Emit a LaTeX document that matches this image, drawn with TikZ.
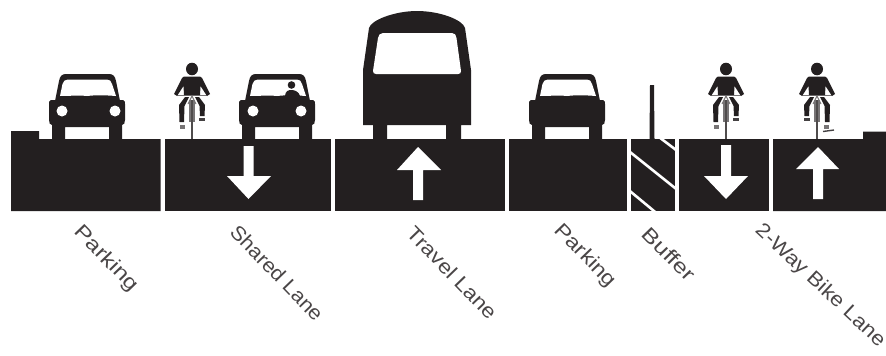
\documentclass[tikz,border=0pt]{standalone}
\usepackage{fontspec}
\setmainfont{Liberation Sans}
\definecolor{ink}{HTML}{231F20}
\definecolor{labelink}{HTML}{4A4647}
\definecolor{spoke}{HTML}{777475}
\newcommand{\carshape}[1]{%
\begin{scope}[shift={(#1,0)}]
\fill[ink] (-32,101) -- (-28,81) .. controls (-27,76) and (-25,74) .. (-21,74) -- (22,74) .. controls (26,74) and (28,76) .. (29,81) -- (33,101) -- cycle;
\fill[ink] (-36,100) -- (36,100) .. controls (38,101) and (38,102) .. (38,104) -- (38,120) .. controls (38,123) and (37,125) .. (35,125) -- (35,139) -- (22,139) -- (22,127) -- (-22,127) -- (-22,139) -- (-35,139) -- (-35,125) .. controls (-37,125) and (-38,123) .. (-38,120) -- (-38,104) .. controls (-38,102) and (-38,101) .. (-36,100) -- cycle;
\fill[white] (-27,96) -- (-24.5,84) .. controls (-23.5,81) and (-22,79.5) .. (-19,79.5) -- (20,79.5) .. controls (23,79.5) and (24,81) .. (25,84) -- (29,96) .. controls (15,95) and (10,95) .. (0,96) .. controls (-10,95) and (-15,96) .. (-27,96) -- cycle;
\end{scope}}
\newcommand{\cyclist}[2]{%
\begin{scope}[shift={(#1,0)},xscale=#2]
\fill[spoke] (-3,100) rectangle (3,122);
\draw[ink!80,line width=2.6pt] (0,100) -- (0,139);
\draw[spoke,line width=1pt] (-15,95.5) -- (15,95.5);
\draw[spoke,line width=1pt] (-4,104) -- (0,96) -- (4,104);
\fill[ink] (0,69) ellipse[x radius=6,y radius=6.3];
\fill[ink] (-8,76.5) -- (8,76.5) -- (10,78) -- (18,94) -- (15,96) -- (8.5,86) -- (8,95) -- (-8,95) -- (-8.5,86) -- (-15,96) -- (-18,94) -- (-10,78) -- cycle;
\fill[ink] (-7,97) -- (-3,97) -- (-7.5,106) -- (-8,122) -- (-12.5,122) -- (-13,105) -- cycle;
\fill[ink] (7,97) -- (3,97) -- (7.5,106) -- (8,116) -- (12.5,116) -- (13,105) -- cycle;
\fill[spoke] (-12,125) rectangle (-7,129);
\fill[ink!85] (7,118) rectangle (13,121);
\end{scope}}
\tikzset{
  road/.style={fill=ink},
  lanemark/.style={fill=white},
  lanelabel/.style={text=labelink,font=\fontsize{20}{20}\selectfont,rotate=-46,inner sep=0pt},
}
\begin{document}
\begin{tikzpicture}[x=1pt,y=-1pt]
\useasboundingbox (0,0) rectangle (886,356);
% road blocks
\fill[road] (11,211) -- (11,131) -- (39,131) -- (39,139) -- (160.5,139) -- (160.5,211) -- cycle;
\fill[road] (165,139) rectangle (331,211);
\fill[road] (335,139) rectangle (505,211);
\fill[road] (509,139) rectangle (627,211);
\fill[road] (679,139) rectangle (769,211);
\fill[road] (773,211) -- (773,139) -- (863,139) -- (863,131.5) -- (886,131.5) -- (886,211) -- cycle;
% buffer
\fill[road] (631,139) rectangle (675,211);
\begin{scope}
\clip (631,139) rectangle (675,211);
\draw[white,line width=2.6pt] (625,148) -- (680,192);
\draw[white,line width=2.6pt] (625,187) -- (660,216);
\draw[white,line width=2.6pt] (655,134) -- (680,153);
\end{scope}
\fill[ink] (649.5,139) -- (650,85) -- (654,85) -- (654.5,139) -- cycle;
% lane arrows
\fill[lanemark] (243.5,146) -- (253.5,146) -- (253.5,176) -- (271,176) -- (248.5,199) -- (227,176) -- (243.5,176) -- cycle;
\fill[lanemark] (413,200) -- (423,200) -- (423,170) -- (441,170) -- (418,147) -- (397,170) -- (413,170) -- cycle;
\fill[lanemark] (721,145) -- (731,145) -- (731,176) -- (748,176) -- (726,199) -- (704,176) -- (721,176) -- cycle;
\fill[lanemark] (813,199) -- (823,199) -- (823,169) -- (839,169) -- (818,147) -- (796,169) -- (813,169) -- cycle;
% cars
\carshape{87}
\fill[white] (62,111) circle[radius=5.5] (115,111) circle[radius=5.5];
\carshape{277}
\fill[white] (253,111) circle[radius=5.5] (301,111) circle[radius=5.5];
\fill[ink] (291.5,85) circle[radius=3.8];
\fill[ink] (285,96) .. controls (285.5,91) and (288,90) .. (291.5,90) .. controls (295,90) and (299,92) .. (300,96) -- cycle;
\carshape{567}
% bus
\fill[ink] (373,139) -- (373,125) -- (363,125) -- (363,70) -- (369,28) .. controls (371,20) and (395,11) .. (417,11) .. controls (440,11) and (463,20) .. (465,28) -- (471,70) -- (471,125) -- (461,125) -- (461,139) -- (446,139) -- (446,125) -- (387,125) -- (387,139) -- cycle;
\fill[white] (376,74) .. controls (374,74) and (373,73) .. (373,71) -- (378,38) .. controls (378.5,35) and (380,33) .. (383,33) -- (452,33) .. controls (455,33) and (456,35) .. (456.5,38) -- (461,71) .. controls (461,73) and (460,74) .. (458,74) -- cycle;
% cyclists
\cyclist{192}{1}
\cyclist{726}{1}
\cyclist{817}{-1}
\draw[ink!85,line width=1.4pt] (823,131.5) -- (834,130);
% labels
\node[lanelabel] (parkingA) at (106,259) {\scalebox{1.23}[1]{Parking}};
\node[lanelabel] (shared) at (277,273) {\scalebox{1.08}[1]{Shared Lane}};
\node[lanelabel] (travel) at (452,273) {\scalebox{1.14}[1]{Travel Lane}};
\node[lanelabel] (parkingB) at (585,256) {\scalebox{1.17}[1]{Parking}};
\node[lanelabel] (buffer) at (669,254) {\scalebox{1.25}[1]{Buffer}};
\node[lanelabel,rotate=3] (bike) at (820,286) {\scalebox{1.12}[1]{2-Way Bike Lane}};
\end{tikzpicture}
\end{document}
